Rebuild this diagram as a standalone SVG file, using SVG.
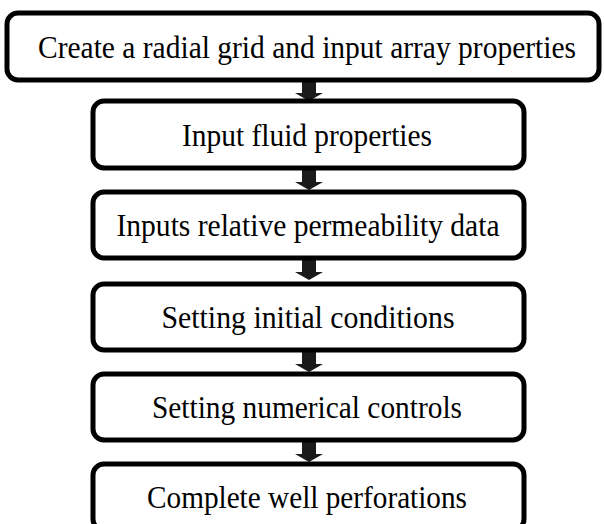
<svg xmlns="http://www.w3.org/2000/svg" width="604" height="524" viewBox="0 0 604 524">
  <style>
    .box { fill: #ffffff; stroke: #000000; stroke-width: 5; }
    .label { font-size: 31px; fill: #000000; text-anchor: middle; }
    .arrow { fill: #1a1a1a; }
  </style>
  <defs>
    <!-- block arrow: shaft plus triangular head, drawn from y=0 down to the tip -->
    <path id="blockArrow" d="M -7 0 H 7 V 12 H 14 L 0 20 L -14 12 H -7 Z"/>
  </defs>

  <g id="connectors">
    <use href="#blockArrow" class="arrow" x="309" y="81"/>
    <use href="#blockArrow" class="arrow" x="309" y="170"/>
    <use href="#blockArrow" class="arrow" x="309" y="260"/>
    <use href="#blockArrow" class="arrow" x="309" y="352"/>
    <use href="#blockArrow" class="arrow" x="309" y="442"/>
  </g>

  <g font-family="'Liberation Serif', 'DejaVu Serif', serif">
    <g id="step1">
      <rect class="box" x="7" y="13" width="592" height="67" rx="11"/>
      <text class="label" x="307" y="58" textLength="538" lengthAdjust="spacingAndGlyphs">Create a radial grid and input array properties</text>
    </g>
    <g id="step2">
      <rect class="box" x="93" y="101" width="431" height="67" rx="11"/>
      <text class="label" x="307" y="146" textLength="250" lengthAdjust="spacingAndGlyphs">Input fluid properties</text>
    </g>
    <g id="step3">
      <rect class="box" x="93" y="192" width="431" height="66" rx="11"/>
      <text class="label" x="308" y="236" textLength="383" lengthAdjust="spacingAndGlyphs">Inputs relative permeability data</text>
    </g>
    <g id="step4">
      <rect class="box" x="93" y="284" width="431" height="66" rx="11"/>
      <text class="label" x="308" y="328" textLength="293" lengthAdjust="spacingAndGlyphs">Setting initial conditions</text>
    </g>
    <g id="step5">
      <rect class="box" x="93" y="374" width="431" height="66" rx="11"/>
      <text class="label" x="307" y="418" textLength="310" lengthAdjust="spacingAndGlyphs">Setting numerical controls</text>
    </g>
    <g id="step6">
      <rect class="box" x="93" y="464" width="431" height="66" rx="11"/>
      <text class="label" x="307" y="508" textLength="320" lengthAdjust="spacingAndGlyphs">Complete well perforations</text>
    </g>
  </g>
</svg>
